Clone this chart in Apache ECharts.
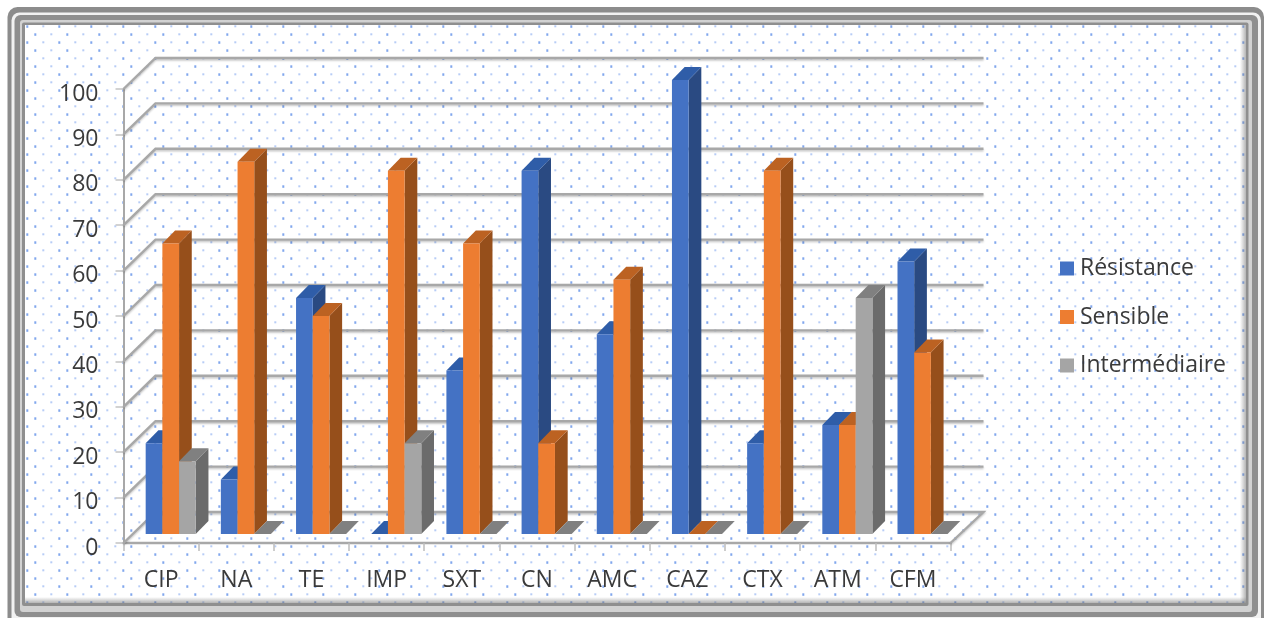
<!DOCTYPE html>
<html><head><meta charset="utf-8">
<script src="https://cdn.jsdelivr.net/npm/echarts@6/dist/echarts.min.js"></script>
<style>html,body{margin:0;padding:0;background:#fff}#c{width:1269px;height:618px;filter:blur(0.55px)}</style>
</head><body><div id="c"></div>
<script>
const categories=['CIP','NA','TE','IMP','SXT','CN','AMC','CAZ','CTX','ATM','CFM'];
const resistance=[20,12,52,0,36,80,44,100,20,24,60];
const sensible=[64,82,48,80,64,20,56,0,80,24,40];
const intermediaire=[16,0,0,20,0,0,0,0,0,52,0];
const yTicks=[0,10,20,30,40,50,60,70,80,90,100];
const seriesNames=['Résistance','Sensible','Intermédiaire'];
const seriesValues=[resistance,sensible,intermediaire];
const faceColors=['#4472c4','#ed7d31','#a5a5a5'];
const topColors=['#2f5da8','#bc6222','#808080'];
const sideColors=['#2a4a82','#964f1b','#6b6b6b'];

const WALL_DX=32, WALL_DY=-31;      // projection of the back wall
const BAR_DX=12.7, BAR_DY=-13;      // projected depth of one bar
const BASE_DY=-9;                   // bars stand inside the floor
const GROUP_INSET=0.295, BAR_W=0.222;// fractions of a category band

function tile(){
  const cv=document.createElement('canvas');cv.width=32;cv.height=32;
  const g=cv.getContext('2d');
  g.fillStyle='#fff';g.fillRect(0,0,32,32);
  for(let r=0;r<4;r++){
    const y=2.3+8*r;
    for(let k=0;k<2;k++){
      const x=3.3+(r%2?8:0)+16*k;
      const strong=(r+k)%2===0;
      g.fillStyle=strong?'rgba(75,130,230,0.7)':'rgba(95,145,235,0.45)';
      g.fillRect(x-1,y-1,2,strong?2.5:2);
    }
  }
  return cv;
}
function box(x0,y0,x1,y1,r,fill,z){
  return {type:'rect',silent:true,z:z,shape:{x:x0,y:y0,width:x1-x0,height:y1-y0,r:r},style:{fill:fill}};
}
function fade(x0,y0,x1,y1,vert){
  return {type:'rect',silent:true,z:-1,shape:{x:x0,y:y0,width:x1-x0,height:y1-y0},
    style:{fill:{type:'linear',x:0,y:0,x2:vert?0:1,y2:vert?1:0,colorStops:[{offset:0,color:'rgba(120,120,120,0)'},{offset:1,color:'rgba(120,120,120,0.55)'}]}}};
}
function wallItem(params,api){
  const v=api.value(1), cs=params.coordSys;
  const y=api.coord([0,v])[1], l=cs.x, r=cs.x+cs.width;
  const pts=[[l,y],[l+WALL_DX,y+WALL_DY],[r+WALL_DX+1,y+WALL_DY]];
  if(v===0) pts.push([r,y]);
  return {type:'polyline',shape:{points:pts},
    style:{fill:null,stroke:'#a8a8a8',lineWidth:2.4,shadowColor:'rgba(0,0,0,0.22)',shadowBlur:2,shadowOffsetY:1.5}};
}
function barItem(idx){
  return function(params,api){
    const i=api.value(0), v=api.value(1);
    const band=api.size([1,0])[0];
    const c=api.coord([i,v]), b=api.coord([i,0]);
    const x=c[0]-band/2+band*GROUP_INSET+idx*band*BAR_W;
    const w=band*BAR_W, top=c[1]+BASE_DY, base=b[1]+BASE_DY;
    const children=[];
    children.push({type:'polygon',shape:{points:[[x+w,top],[x+w+BAR_DX,top+BAR_DY],[x+w+BAR_DX,base+BAR_DY],[x+w,base]]},style:{fill:sideColors[idx]}});
    children.push({type:'polygon',shape:{points:[[x,top],[x+BAR_DX,top+BAR_DY],[x+w+BAR_DX,top+BAR_DY],[x+w,top]]},style:{fill:topColors[idx]}});
    children.push({type:'rect',shape:{x:x,y:top,width:w,height:base-top},style:{fill:faceColors[idx]}});
    return {type:'group',children:children};
  };
}
const chart=echarts.init(document.getElementById('c'),null,{renderer:'canvas'});
const series=[{
  name:'walls',type:'custom',z:1,silent:true,clip:false,
  renderItem:wallItem,encode:{x:0,y:1},data:yTicks.map(v=>[0,v])
}];
seriesNames.forEach((n,idx)=>{
  series.push({name:n,type:'custom',z:3+idx,clip:false,itemStyle:{color:faceColors[idx]},
    renderItem:barItem(idx),encode:{x:0,y:1},
    data:seriesValues[idx].map((v,i)=>[i,v])});
});
chart.setOption({
  animation:false,
  backgroundColor:'#fff',
  textStyle:{fontFamily:'"Open Sans"'},
  graphic:[
    box(7.5,7,1264,640,10,'#8c8c8c',-6),
    box(11.5,12.5,1261,640,8,'#f2f2f2',-5),
    box(14.5,15,1258,617,6,'#8f8f8f',-4),
    box(20,20,1252,612,3,'#d2d2d2',-3),
    box(22,22.5,1248.5,606,2,'#8f8f8f',-2),
    box(25,25,1246,603,0,{image:tile(),repeat:'repeat'},-2),
    fade(1240,25,1246,603,false),
    fade(25,597,1246,603,true)
  ],
  grid:{left:123.5,top:89,width:827,height:454,containLabel:false},
  legend:{
    data:seriesNames,orient:'vertical',left:1055,top:252,itemWidth:14,itemHeight:14,itemGap:25.5,icon:'rect',
    selectedMode:false,
    textStyle:{fontFamily:'"Open Sans"',fontSize:23,color:'#3a3a3a',padding:[0,0,0,1]}
  },
  xAxis:{type:'category',data:categories,boundaryGap:true,
    axisLine:{show:true,lineStyle:{color:'#a8a8a8',width:2.4}},
    axisTick:{show:true,alignWithLabel:false,length:8,lineStyle:{color:'#bdbdbd',width:1.5}},
    axisLabel:{fontFamily:'"Open Sans"',fontSize:23,color:'#3a3a3a',margin:26,interval:0},
    splitLine:{show:false}},
  yAxis:{type:'value',min:0,max:100,interval:10,
    axisLine:{show:true,lineStyle:{color:'#a8a8a8',width:2}},
    axisTick:{show:true,length:8,lineStyle:{color:'#c4c4c4',width:1.5}},
    axisLabel:{fontFamily:'"Open Sans"',fontSize:23,color:'#3a3a3a',margin:25,verticalAlign:'top',lineHeight:10},
    splitLine:{show:false}},
  series:series
});
</script></body></html>
